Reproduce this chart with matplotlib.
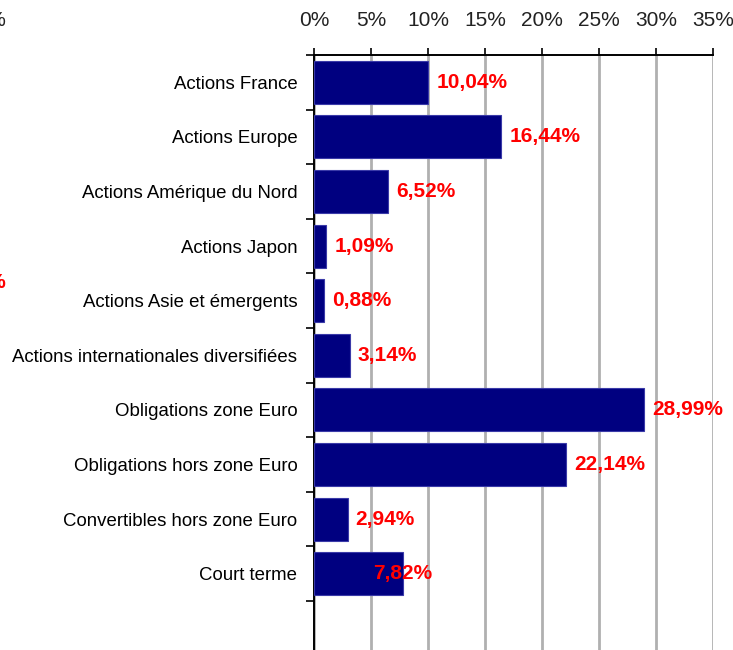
import numpy as np
import matplotlib
matplotlib.use('Agg')
import matplotlib.pyplot as plt
from matplotlib.ticker import MultipleLocator, FuncFormatter

categories = ['Actions France', 'Actions Europe', 'Actions Amérique du Nord',
              'Actions Japon', 'Actions Asie et émergents',
              'Actions internationales diversifiées', 'Obligations zone Euro',
              'Obligations hors zone Euro', 'Convertibles hors zone Euro',
              'Court terme', '']
values = [10.04, 16.44, 6.52, 1.09, 0.88, 3.14, 28.99, 22.14, 2.94, 7.82, np.nan]

plt.rcParams['font.family'] = ['Liberation Sans', 'DejaVu Sans']

fig = plt.figure(figsize=(7.33, 6.5), dpi=100)
W, H = 733, 650
# axes box in pixels: left 314, right 713, top 55, one extra empty slot runs off the bottom
left, right, top, slot = 314, 713, 55, 54.6
n = len(categories)
bottom = top + slot * n
ax = fig.add_axes([left / W, 1 - bottom / H, (right - left) / W, (bottom - top) / H])

y = np.arange(n)
ax.barh(y, values, height=0.79, color='#000080', edgecolor='#3a3aa8', linewidth=0.8, zorder=3)
ax.set_ylim(n - 0.5, -0.5)
ax.set_xlim(0, 35)

# top axis with gridlines
ax.xaxis.tick_top()
ax.xaxis.set_major_locator(MultipleLocator(5))
ax.xaxis.set_major_formatter(FuncFormatter(lambda v, p: '%d%%' % v))
ax.tick_params(axis='x', direction='out', length=5, width=1.2, color='black',
               labelsize=15, pad=13, labelcolor='#222222')
ax.grid(axis='x', color='#b0b0b0', linewidth=2, zorder=0)

# y ticks between categories, labels centered on bars
ax.set_yticks(y - 0.5, minor=False)
ax.set_yticklabels([])
ax.set_yticks(y, minor=True)
ax.set_yticklabels(categories, minor=True)
ax.tick_params(axis='y', which='major', direction='out', length=6, width=1.2)
ax.tick_params(axis='y', which='minor', length=0, labelsize=13.4, pad=12)

for s in ['right', 'bottom']:
    ax.spines[s].set_visible(False)
ax.spines['top'].set_linewidth(1.4)
ax.spines['left'].set_linewidth(1.4)

# value labels
for i, v in enumerate(values):
    if np.isnan(v):
        continue
    txt = ('%.2f%%' % v).replace('.', ',')
    if i == len(values) - 2:
        ax.text(v, i, txt, ha='center', va='center', color='red',
                fontsize=15, fontweight='bold', zorder=4)
    else:
        ax.text(v + 0.7, i, txt, ha='left', va='center', color='red',
                fontsize=15, fontweight='bold', zorder=4)

# fragments of the neighbouring chart cut off at the left edge
fig.text(6 / W, 1 - 20 / H, '35%', ha='right', va='center', fontsize=15, color='#222222')
fig.text(6 / W, 1 - 283 / H, '30%', ha='right', va='center', fontsize=15,
         color='red', fontweight='bold')

fig.savefig('out.png', dpi=100)
